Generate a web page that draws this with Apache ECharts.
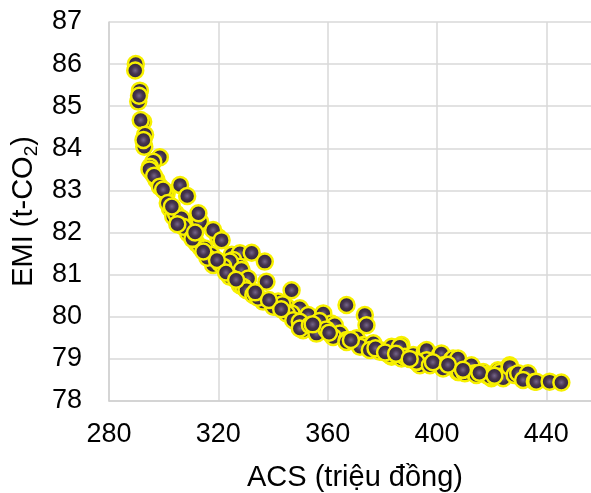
<!DOCTYPE html>
<html>
<head>
<meta charset="utf-8">
<script src="https://cdn.jsdelivr.net/npm/echarts@6/dist/echarts.min.js"></script>
<style>
  html, body { margin: 0; padding: 0; background: #fff; }
  #main { width: 591px; height: 493px; }
</style>
</head>
<body>
<div id="main"></div>
<script>
// ACS (million VND) and EMI (t-CO2) of each solution
var acsValues = [
  289.8, 289.6, 291.3, 290.7, 291.0, 292.5, 291.6, 293.2, 292.9, 292.6,
  298.6, 296.2, 295.0, 295.6, 294.8, 297.4, 296.5, 298.6, 301.1, 300.5,
  306.0, 308.6, 299.8, 302.3, 301.5, 303.5, 304.5, 307.2, 306.5, 313.3,
  312.7, 309.0, 307.2, 310.8, 320.0, 318.1, 312.1, 313.3, 315.1, 317.5,
  318.1, 316.0, 320.6, 321.2, 324.9, 327.9, 325.5, 327.9, 332.2, 337.0,
  324.2, 321.8, 328.5, 324.2, 330.9, 337.6, 327.9, 329.1, 330.3, 332.8,
  336.4, 334.5, 346.8, 341.9, 341.3, 345.0, 340.1, 343.5, 349.8, 346.8,
  345.0, 352.9, 358.4, 347.4, 349.8, 351.0, 349.8, 353.5, 356.5, 355.9,
  361.4, 362.0, 362.6, 366.9, 373.6, 374.2, 364.5, 362.0, 366.9, 366.9,
  370.6, 373.0, 371.8, 376.7, 379.1, 375.4, 379.1, 383.4, 387.0, 386.4,
  383.4, 382.7, 387.0, 388.2, 391.3, 395.5, 396.2, 396.2, 393.7, 392.5,
  401.0, 401.6, 405.3, 405.9, 402.2, 402.9, 397.4, 402.2, 407.7, 408.3,
  407.7, 412.6, 410.2, 413.8, 414.4, 416.9, 418.1, 419.9, 419.3, 422.3,
  423.0, 423.5, 424.2, 426.6, 426.6, 428.4, 429.7, 433.3, 431.5, 435.8,
  436.3, 441.2, 445.5, 305.0, 310.5, 357.0, 359.5, 303.0, 311.5, 314.5,
  319.5, 322.8, 326.5, 333.5, 338.5, 343.0, 354.5, 360.5, 368.5, 377.5,
  381.0, 385.0, 390.0, 398.5, 404.0, 409.5, 415.5, 421.0
];
var emiValues = [
  86.00, 85.85, 85.37, 85.11, 85.25, 84.63, 84.67, 84.32, 84.04, 84.20,
  83.79, 83.68, 83.56, 83.44, 83.50, 83.25, 83.35, 83.09, 82.93, 82.98,
  83.13, 82.87, 83.02, 82.57, 82.70, 82.38, 82.45, 82.26, 82.34, 82.26,
  82.46, 81.98, 82.14, 81.90, 81.89, 82.06, 81.74, 81.66, 81.62, 81.47,
  81.23, 81.40, 81.27, 81.82, 81.47, 81.51, 81.35, 81.19, 81.52, 81.31,
  81.31, 81.19, 81.11, 80.95, 80.91, 80.83, 80.75, 80.71, 80.63, 80.52,
  80.36, 80.45, 80.63, 80.36, 80.24, 80.24, 80.24, 80.30, 80.20, 80.08,
  80.08, 80.04, 80.08, 79.92, 79.88, 79.68, 79.72, 79.80, 79.76, 79.60,
  79.84, 79.72, 79.80, 80.28, 80.04, 79.80, 79.60, 79.52, 79.45, 79.40,
  79.49, 79.33, 79.29, 79.37, 79.21, 79.21, 79.17, 79.29, 79.33, 79.29,
  79.05, 79.09, 79.01, 79.05, 79.09, 79.17, 79.21, 78.97, 78.85, 78.93,
  79.09, 79.13, 78.97, 79.01, 78.85, 78.81, 78.85, 78.77, 78.69, 78.69,
  79.01, 78.85, 78.66, 78.66, 78.62, 78.69, 78.62, 78.54, 78.58, 78.73,
  78.69, 78.58, 78.54, 78.85, 78.81, 78.62, 78.66, 78.66, 78.50, 78.46,
  78.46, 78.46, 78.44, 82.20, 81.85, 79.90, 79.70, 82.62, 82.00, 81.55,
  81.35, 81.05, 80.88, 80.58, 80.40, 80.18, 79.82, 79.62, 79.45, 79.25,
  79.15, 79.12, 79.00, 78.92, 78.86, 78.74, 78.67, 78.60
];

var points = acsValues.map(function (x, i) { return [x, emiValues[i]]; });

var myChart = echarts.init(document.getElementById('main'));

var gridLine = { show: true, lineStyle: { color: '#d9d9d9', width: 1.5 } };
var font = '"Liberation Sans", Arial, sans-serif';

myChart.setOption({
  animation: false,
  grid: {
    left: 109,
    top: 22,
    right: -10,
    bottom: 92,
    outerBoundsMode: 'none'
  },
  xAxis: {
    type: 'value',
    min: 280,
    max: 460,
    interval: 40,
    name: 'ACS (triệu đồng)',
    nameLocation: 'middle',
    nameGap: 62,
    nameTextStyle: { fontFamily: font, fontSize: 29, color: '#000' },
    axisLine: { show: true, lineStyle: { color: '#d0d0d0', width: 1.5 } },
    axisTick: { show: false },
    axisLabel: { fontFamily: font, fontSize: 27, color: '#000', margin: 20, showMaxLabel: false },
    splitLine: gridLine
  },
  yAxis: {
    type: 'value',
    min: 78,
    max: 87,
    interval: 1,
    name: '{a|EMI (t-CO}{s|2}{a|)}',
    nameLocation: 'middle',
    nameRotate: 90,
    nameGap: 67,
    nameTextStyle: {
      fontFamily: font,
      color: '#000',
      rich: {
        a: { fontFamily: font, fontSize: 29, color: '#000', lineHeight: 34 },
        s: { fontFamily: font, fontSize: 19, color: '#000', lineHeight: 14, verticalAlign: 'bottom' }
      }
    },
    axisLine: { show: true, lineStyle: { color: '#d0d0d0', width: 1.5 } },
    axisTick: { show: false },
    axisLabel: { fontFamily: font, fontSize: 27, color: '#000', margin: 27 },
    splitLine: gridLine
  },
  series: [
    {
      type: 'scatter',
      data: points,
      symbol: 'circle',
      symbolSize: 16,
      itemStyle: {
        color: {
          type: 'radial', x: 0.5, y: 0.5, r: 0.5,
          colorStops: [
            { offset: 0, color: '#75658a' },
            { offset: 0.4, color: '#46354f' },
            { offset: 1, color: '#281c30' }
          ]
        },
        borderColor: '#f7f000',
        borderWidth: 2.5,
        opacity: 1
      }
    }
  ]
});
</script>
</body>
</html>
